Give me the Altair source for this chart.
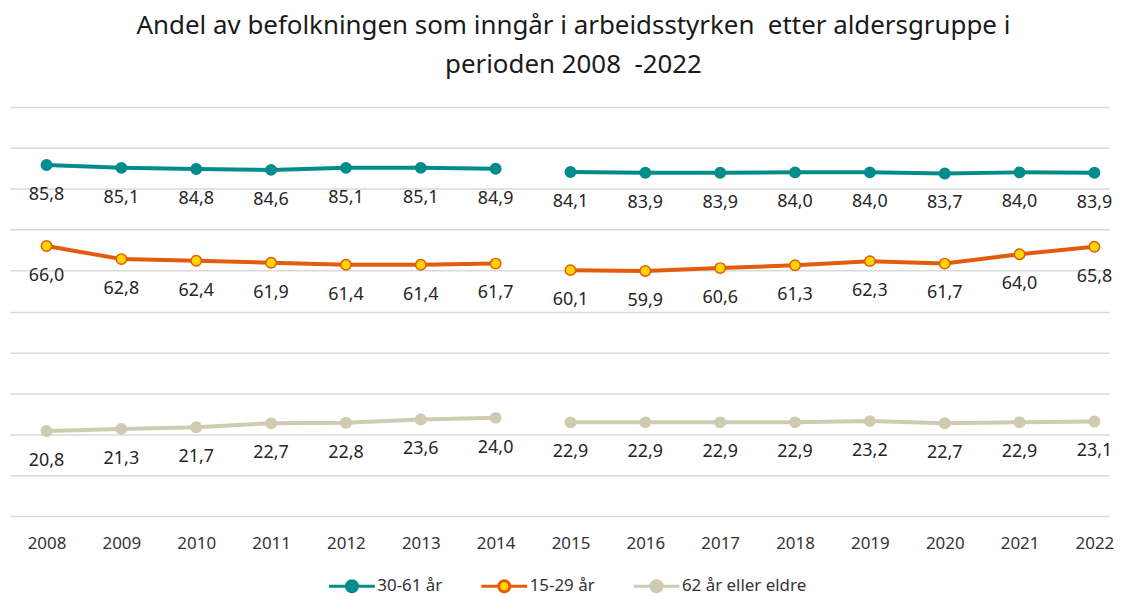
import altair as alt
import pandas as pd

years = list(range(2008, 2023))
series_names = ["30-61 år", "15-29 år", "62 år eller eldre"]
v_30_61 = [85.8, 85.1, 84.8, 84.6, 85.1, 85.1, 84.9, 84.1, 83.9, 83.9, 84.0, 84.0, 83.7, 84.0, 83.9]
v_15_29 = [66.0, 62.8, 62.4, 61.9, 61.4, 61.4, 61.7, 60.1, 59.9, 60.6, 61.3, 62.3, 61.7, 64.0, 65.8]
v_62 = [20.8, 21.3, 21.7, 22.7, 22.8, 23.6, 24.0, 22.9, 22.9, 22.9, 22.9, 23.2, 22.7, 22.9, 23.1]

stroke_colors = ["#038C8C", "#E35B0C", "#CFCBB1"]
fill_colors = ["#038C8C", "#FFD500", "#CFCBB1"]

rows = []
for name, vals in zip(series_names, [v_30_61, v_15_29, v_62]):
    for y, v in zip(years, vals):
        rows.append({
            "year": y,
            "value": v,
            "serie": name,
            "seg": f"{name}-{'a' if y <= 2014 else 'b'}",
            "lab": f"{v:.1f}".replace(".", ","),
        })
df = pd.DataFrame(rows)

FONT = "Noto Sans"

x = alt.X(
    "year:Q",
    scale=alt.Scale(domain=[2007.512, 2022.195], nice=False, zero=False),
    axis=alt.Axis(values=years, format="d", grid=False, ticks=False, domain=False,
                  labelPadding=20, labelFontSize=17, labelFont=FONT, labelColor="#333333",
                  title=None, labelFlush=False),
)
y = alt.Y(
    "value:Q",
    scale=alt.Scale(domain=[0, 100], nice=False),
    axis=alt.Axis(values=list(range(0, 101, 10)), labels=False, ticks=False, domain=False,
                  grid=True, gridColor="#D9D9D9", gridWidth=1.5, title=None),
)

stroke_scale = alt.Scale(domain=series_names, range=stroke_colors)
fill_scale = alt.Scale(domain=series_names, range=fill_colors)

legend_path = "M-4.6,0L-1.1,0M1.1,0L4.6,0M-1.1,0A1.1,1.1 0 1,0 1.1,0A1.1,1.1 0 1,0 -1.1,0Z"
leg = alt.Legend(
    orient="none", legendX=335, legendY=473, direction="horizontal", title=None,
    symbolType=legend_path, symbolSize=100, symbolStrokeWidth=3,
    labelFontSize=17, labelFont=FONT, labelColor="#333333",
    labelOffset=17, columnPadding=32,
)

base = alt.Chart(df)

lines = base.mark_line(strokeWidth=4).encode(
    x=x, y=y,
    stroke=alt.Stroke("serie:N", scale=stroke_scale, legend=leg),
    detail="seg:N",
)
points = base.mark_circle(size=110, strokeWidth=1.5, opacity=1).encode(
    x=x, y=y,
    stroke=alt.Stroke("serie:N", scale=stroke_scale, legend=leg),
    fill=alt.Fill("serie:N", scale=fill_scale, legend=leg),
)
labels = base.mark_text(dy=30, fontSize=18, font=FONT, color="#262626").encode(
    x=x, y=y, text="lab:N",
)

chart = alt.layer(lines, points, labels).properties(
    width=1104,
    height=411,
    padding={"top": 4, "left": 2, "right": 0, "bottom": 0},
    title=alt.TitleParams(
        text=["Andel av befolkningen som inngår i arbeidsstyrken\u00a0 etter aldersgruppe i",
              "perioden 2008\u00a0 -2022"],
        fontSize=26, font=FONT, fontWeight="normal", color="#1a1a1a",
        lineHeight=39, anchor="middle", offset=29, dx=14,
    ),
).configure_view(stroke=None)

chart.save("out.html", embed_options={"renderer": "svg", "actions": False})
